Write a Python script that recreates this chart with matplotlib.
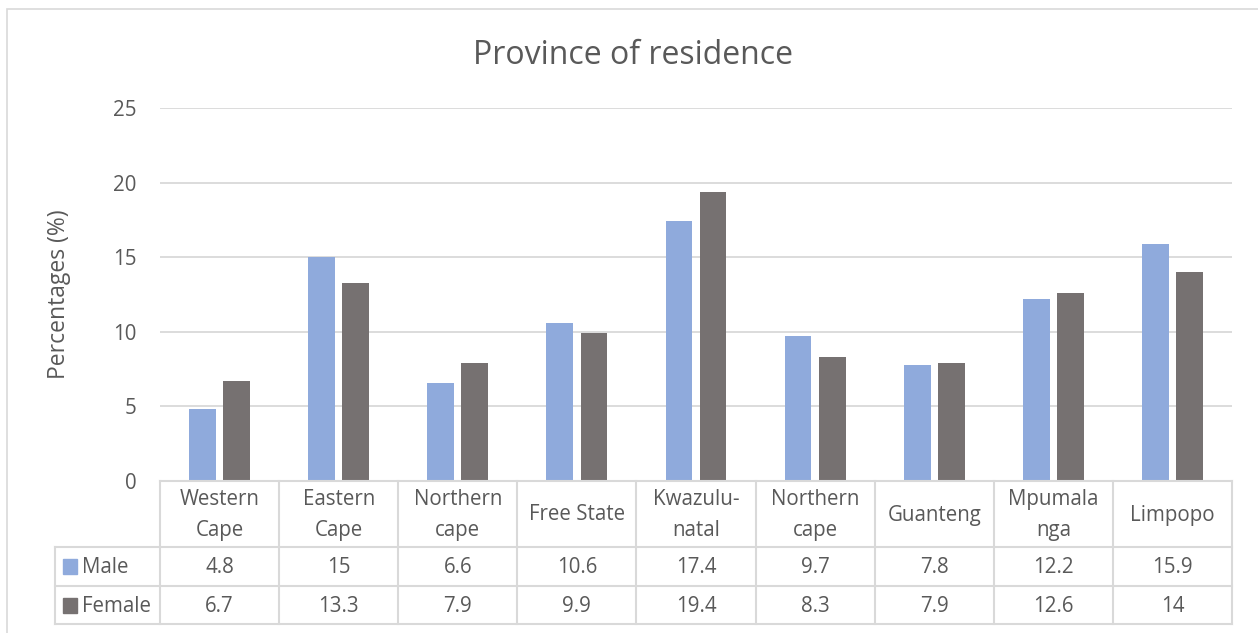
import matplotlib
matplotlib.use("Agg")
import matplotlib.pyplot as plt
import matplotlib.transforms as mtransforms
from matplotlib.lines import Line2D
from matplotlib.patches import Rectangle
import numpy as np

plt.rcParams['font.family'] = ['Open Sans', 'DejaVu Sans']

# data
provinces = ["Western\nCape", "Eastern\nCape", "Northern\ncape", "Free State",
             "Kwazulu-\nnatal", "Northern\ncape", "Guanteng", "Mpumala\nnga", "Limpopo"]
male = [4.8, 15, 6.6, 10.6, 17.4, 9.7, 7.8, 12.2, 15.9]
female = [6.7, 13.3, 7.9, 9.9, 19.4, 8.3, 7.9, 12.6, 14]
series_names = ["Male", "Female"]
yticks = [0, 5, 10, 15, 20, 25]

c_male = "#8FAADC"
c_female = "#767171"
c_text = "#595959"
c_line = "#D9D9D9"
fs = 14.8

W, H = 1258, 633
fig = plt.figure(figsize=(W / 100, H / 100), dpi=100)

def fx(px):
    return px / W

def fy(py):
    return 1 - py / H

# plot area (pixel layout of the original)
left, right, top, bottom = 160, 1232, 108, 481
ax = fig.add_axes([fx(left), fy(bottom), fx(right) - fx(left), fy(top) - fy(bottom)])

x = np.arange(len(provinces))
bw = 0.225
ax.bar(x - 0.143, male, bw, color=c_male, zorder=2)
ax.bar(x + 0.143, female, bw, color=c_female, zorder=2)

ax.set_xlim(-0.5, len(provinces) - 0.5)
ax.set_ylim(0, 25)
ax.set_yticks(yticks)
ax.set_xticks([])
ax.yaxis.grid(True, color=c_line, lw=1.3)
ax.set_axisbelow(True)
for s in ["top", "right", "left"]:
    ax.spines[s].set_visible(False)
ax.spines["bottom"].set_color(c_line)
ax.spines["bottom"].set_linewidth(1.5)
ax.tick_params(axis="y", length=0, pad=17, labelsize=fs, labelcolor=c_text)

# data table below the axes
trans = mtransforms.blended_transform_factory(ax.transData, fig.transFigure)
row_top, row_h, row_m, row_f = 481, 547, 586, 624
key_left = 55

for i in range(len(provinces) + 1):
    fig.add_artist(Line2D([i - 0.5, i - 0.5], [fy(row_top), fy(row_f)],
                          transform=trans, color=c_line, lw=1.5))
for yy in [row_h, row_m, row_f]:
    fig.add_artist(Line2D([fx(key_left), fx(right)], [fy(yy), fy(yy)],
                          transform=fig.transFigure, color=c_line, lw=1.5))
fig.add_artist(Line2D([fx(key_left), fx(key_left)], [fy(row_h), fy(row_f)],
                      transform=fig.transFigure, color=c_line, lw=1.5))

for i, name in enumerate(provinces):
    fig.text(i, fy((row_top + row_h) / 2 + 1), name, transform=trans, ha="center",
             va="center", ma="center", fontsize=fs, color=c_text, linespacing=1.65)
    fig.text(i, fy((row_h + row_m) / 2 + 1), f"{male[i]:g}", transform=trans,
             ha="center", va="center", fontsize=fs, color=c_text)
    fig.text(i, fy((row_m + row_f) / 2 + 1), f"{female[i]:g}", transform=trans,
             ha="center", va="center", fontsize=fs, color=c_text)

for name, col, (ya, yb) in zip(series_names, [c_male, c_female],
                               [(row_h, row_m), (row_m, row_f)]):
    yc = (ya + yb) / 2
    fig.add_artist(Rectangle((fx(63), fy(yc + 7.5)), 14 / W, 15 / H,
                             transform=fig.transFigure, color=col))
    fig.text(fx(82), fy(yc + 1), name, ha="left", va="center", fontsize=fs, color=c_text)

fig.text(fx(633), fy(55), "Province of residence", ha="center", va="center",
         fontsize=23, color=c_text)
fig.text(fx(59), fy(294), "Percentages (%)", ha="center", va="center",
         rotation=90, fontsize=16.5, color=c_text)

# chart frame
fig.add_artist(Rectangle((fx(7), fy(H + 20)), (W + 20) / W, (H + 11) / H,
                         transform=fig.transFigure, fill=False, edgecolor=c_line, lw=1.2))

fig.savefig("out.png", dpi=100)
